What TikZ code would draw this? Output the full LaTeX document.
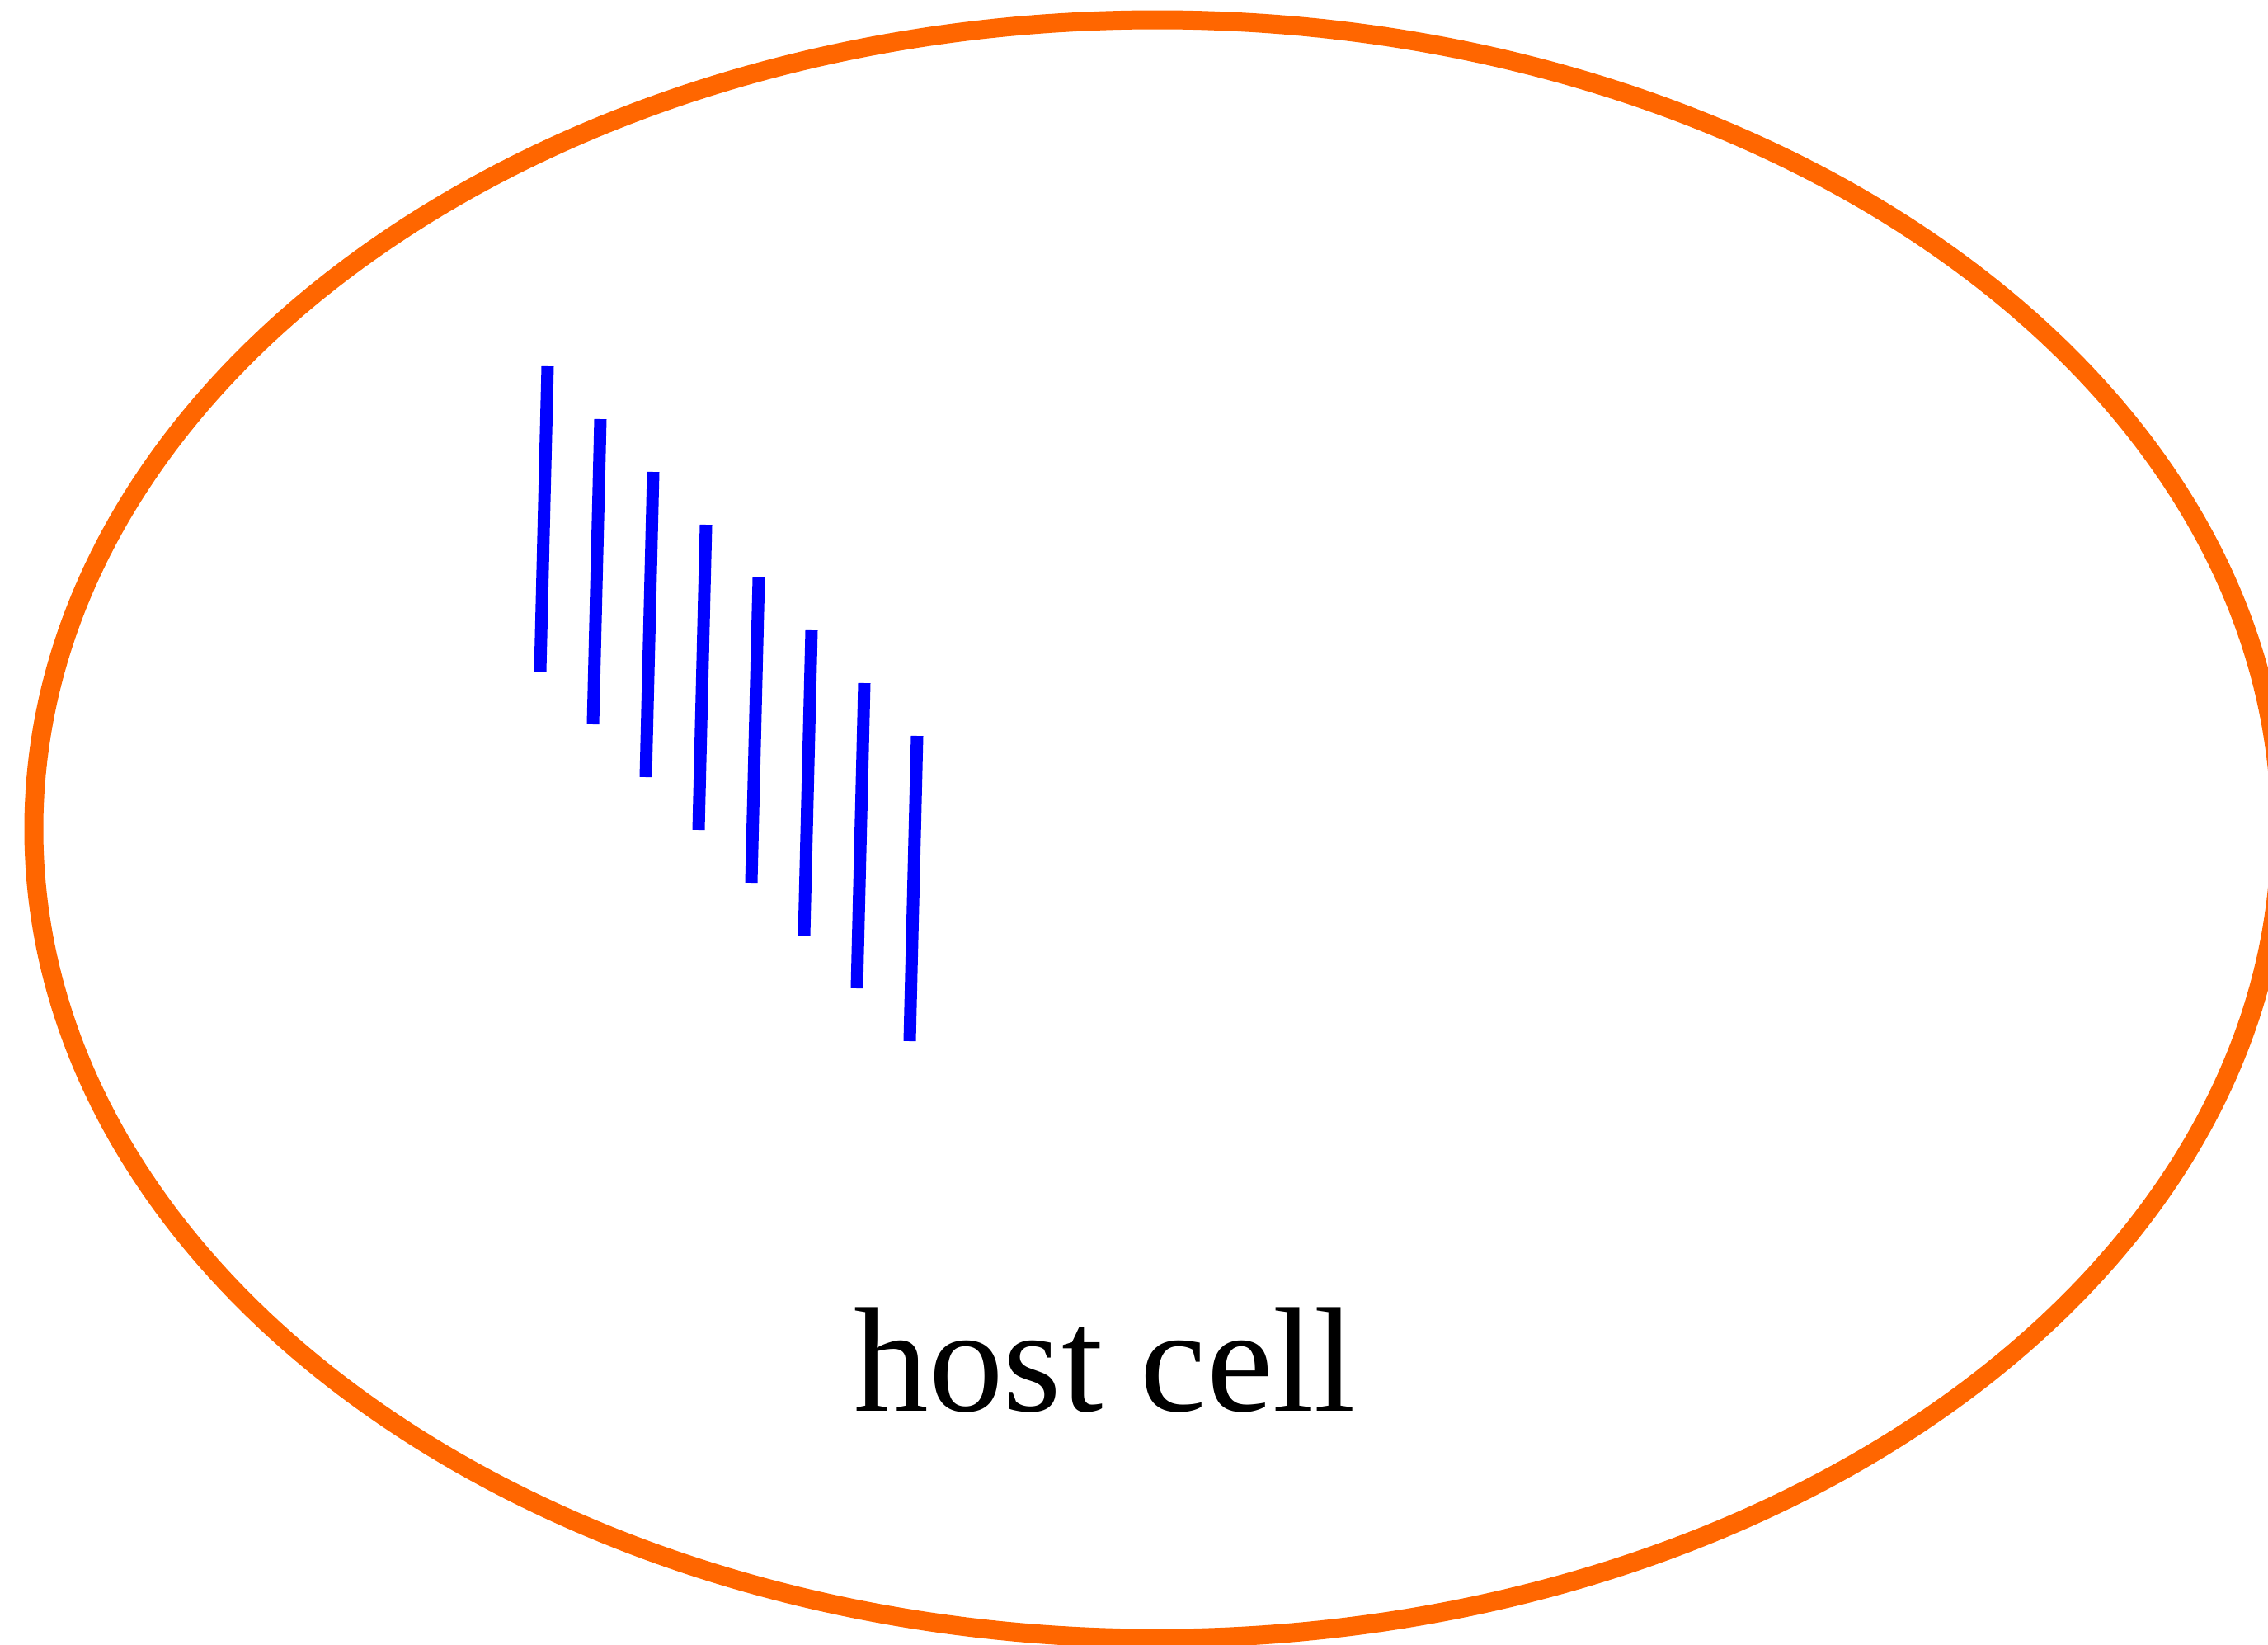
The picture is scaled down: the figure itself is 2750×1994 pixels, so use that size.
\documentclass[tikz,border=0pt]{standalone}
\usepackage{fontspec}
\setmainfont{Liberation Serif}
\definecolor{membrane}{RGB}{255,102,0}
\definecolor{filament}{RGB}{0,0,255}
\begin{document}
\begin{tikzpicture}[x=1pt, y=-1pt,
  cellwall/.style={draw=membrane, line width=23pt},
  fibre/.style={draw=filament, line width=15pt, line cap=butt},
  caption/.style={font=\fontsize{181}{217}\selectfont, anchor=base, inner sep=0pt}]
  \useasboundingbox (0,0) rectangle (2750,1994);
  \clip (0,0) rectangle (2750,1994);
  % cell outline
  \draw[cellwall] (1403,1005) ellipse [x radius=1362, y radius=981];
  % row of slanted filaments
  \foreach \k in {0,...,7} {
    \draw[fibre] ({664+64*\k},{444+64*\k}) -- ({655+64*\k},{814+64*\k});
  }
  % label
  \node[caption] (label) at (1340,1710) {host cell};
\end{tikzpicture}
\end{document}
